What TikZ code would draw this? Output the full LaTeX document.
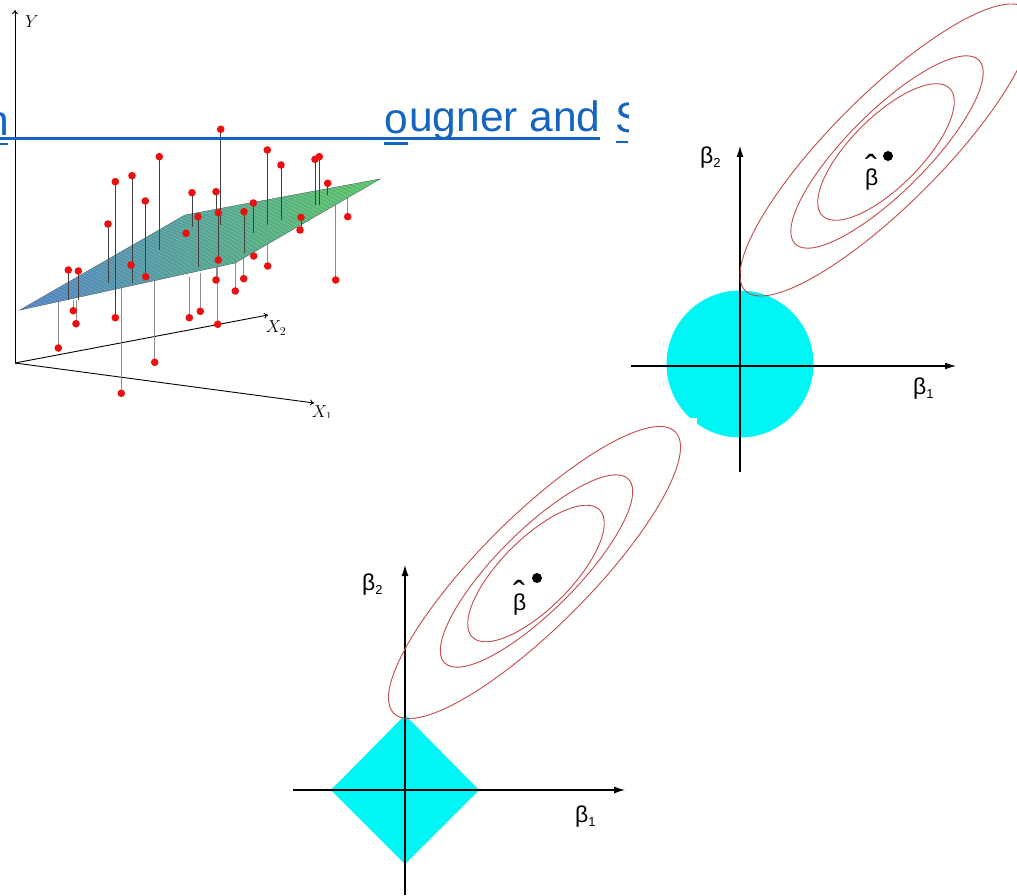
\documentclass[tikz,border=0pt]{standalone}
\usepackage{fontspec}
\setmainfont{Liberation Sans}
\usetikzlibrary{arrows.meta,calc}
\definecolor{linkblue}{RGB}{21,101,192}
\definecolor{contour}{RGB}{195,75,75}
\definecolor{aqua}{RGB}{0,245,245}
\definecolor{ptred}{RGB}{235,15,15}
\definecolor{planeblue}{RGB}{110,160,240}
\definecolor{planeteal}{RGB}{100,228,220}
\definecolor{planegreen}{RGB}{120,240,120}
\definecolor{meshcol}{RGB}{10,40,50}
\begin{document}
\begin{tikzpicture}[x=1pt,y=-1pt,
  linktext/.style={text=linkblue,font=\fontsize{42.5}{42.5}\selectfont,inner sep=0pt},
  underline/.style={draw=linkblue,line width=2.2pt},
  axis3d/.style={line width=0.9pt,-{To[length=4pt,width=6pt]}},
  lbl3d/.style={inner sep=0pt,font=\fontsize{17}{17}\selectfont},
  upstem/.style={draw=black!75,line width=0.7pt},
  downstem/.style={draw=black!45,line width=0.7pt},
  meshline/.style={draw=meshcol,opacity=0.33,line width=0.3pt},
  betaaxis/.style={line width=1.2pt,-{Latex[length=11pt,width=7pt]}},
  contourline/.style={draw=contour,line width=0.9pt},
  betalbl/.style={inner sep=0pt,anchor=base west,font=\fontsize{23}{23}\selectfont},
  hatlbl/.style={inner sep=0pt,anchor=base,font=\fontsize{36}{36}\selectfont}]
\useasboundingbox (0,0) rectangle (1017,896);
\clip (0,0) rectangle (1017,896);
\fill[white] (0,0) rectangle (1017,896);

% ---- hidden link text (partly visible)
\begin{scope}
  \clip (0,100) rectangle (9,150);
  \node[linktext,anchor=base east] (tn) at (9,136) {n};
\end{scope}
\node[linktext,anchor=base west] (to) at (384,134) {o};
\node[linktext,anchor=base west] (tugner) at (409,132) {ugner and};
\begin{scope}
  \clip (600,90) rectangle (628,150);
  \node[linktext,anchor=base west] (ts) at (615,133) {S};
\end{scope}
\draw[underline] (0,144) -- (8,144);
\draw[underline] (384,143.5) -- (408,143.5);
\draw[underline] (616,142) -- (628,142);

% ---- 3D regression plot
\coordinate (O) at (15,363);
\coordinate (Ytip) at (15,10);
\coordinate (X2tip) at (268,315);
\coordinate (X1tip) at (314,403);
\draw[axis3d] (O) -- (Ytip);
\draw[axis3d] (O) -- (X2tip);
\draw[axis3d] (O) -- (X1tip);
\node[lbl3d] (ylab) at (32,22) {$Y$};
\node[lbl3d] (x2lab) at (276,328) {$X_2$};
\node[lbl3d] (x1lab) at (322,413) {$X_1$};

% stems of points below the plane
\foreach \x/\ya/\yb in {347.7/216.7/196, 335.7/280/203, 73.3/310.7/300, 76/323.7/300,
  58.3/348/300, 121.3/393.3/287, 154.7/362.3/277, 189.3/317.7/277, 200.3/311.3/273,
  216/280/260, 217.7/324.3/263, 235.3/291/260, 243.7/278.7/253, 253.7/256/243, 267.7/266/230}
  {\draw[downstem] (\x,\ya) -- (\x,\yb);}

% plane
\coordinate (A) at (20,310);
\coordinate (B) at (185,215);
\coordinate (C) at (380,179);
\coordinate (D) at (235,263);
\shade[left color=planeblue,middle color=planeteal,right color=planegreen] (A) -- (B) -- (C) -- (D) -- cycle;
\foreach \i in {0,...,42}{
  \pgfmathsetmacro\t{\i/42}
  \draw[meshline] ($(A)!\t!(B)$) -- ($(D)!\t!(C)$);
}
\foreach \i in {0,...,48}{
  \pgfmathsetmacro\t{\i/48}
  \draw[meshline] ($(A)!\t!(D)$) -- ($(B)!\t!(C)$);
}
\draw[meshcol!70,line width=0.4pt] (A) -- (B) -- (C) -- (D) -- cycle;

% stems of points above the plane
\foreach \x/\ya/\yb in {220.7/129.3/225, 159.3/156.7/250, 267.3/150/225, 281/165/220,
  315/159.3/205, 319.3/156.7/205, 327.7/183.3/195, 115.3/181.7/318, 132/175.7/283,
  145.3/201/277, 108/224/283, 192/192.7/227, 216/191.7/213, 198/216.7/267,
  218.3/212.7/260, 244/211.7/253, 253.3/203/233, 301/217.3/230, 68.3/270/300, 78.3/271/300}
  {\draw[upstem] (\x,\ya) -- (\x,\yb);}

% red points
\foreach \x/\y in {220.7/129.3, 159.3/156.7, 267.3/150, 281/165, 315/159.3, 319.3/156.7,
  327.7/183.3, 115.3/181.7, 132/175.7, 145.3/201, 108/224, 192/192.7, 216/191.7,
  198/216.7, 218.3/212.7, 244/211.7, 253.3/203, 301/217.3, 68.3/270, 78.3/271,
  347.7/216.7, 335.7/280, 73.3/310.7, 76/323.7, 58.3/348, 121.3/393.3, 154.7/362.3,
  189.3/317.7, 200.3/311.3, 216/280, 217.7/324.3, 235.3/291, 243.7/278.7, 253.7/256,
  267.7/266, 186/233.3, 300/230, 131/265, 145.7/276.7, 218.3/260, 115.3/317.7}
  {\fill[ptred] (\x,\y) circle[radius=3.8pt];}

% ---- upper right: ridge (circle)
\fill[aqua] (740,364) circle[radius=73.5pt];
\draw[betaaxis] (631,366) -- (956,366);
\draw[betaaxis] (740,472) -- (740,146);
\draw[contourline,rotate around={45:(886,150)}] (886,150) ellipse[x radius=199pt,y radius=55pt];
\draw[contourline,rotate around={45:(887,152)}] (887,152) ellipse[x radius=130pt,y radius=40pt];
\draw[contourline,rotate around={45:(886,152)}] (886,152) ellipse[x radius=90pt,y radius=35pt];
\fill[black] (888,156) circle[radius=5pt];
\node[betalbl] (ub2) at (700,164) {β\raisebox{-4pt}{\fontsize{13}{13}\selectfont 2}};
\node[betalbl] (ub1) at (913,394) {β\raisebox{-4pt}{\fontsize{13}{13}\selectfont 1}};
\node[betalbl] (ubh) at (865,186) {β};
\node[hatlbl] (ubhat) at (871,181) {ˆ};

% ---- lower image background covering part of the circle
\fill[white] (270,418) rectangle (697,896);

% ---- lower: lasso (diamond)
\fill[aqua] (405,715) -- (479,790) -- (405,864) -- (331,790) -- cycle;
\draw[betaaxis] (293,790) -- (625,790);
\draw[betaaxis] (405,895) -- (405,565);
\draw[contourline,rotate around={45:(534.5,572.5)}] (534.5,572.5) ellipse[x radius=199pt,y radius=55pt];
\draw[contourline,rotate around={45:(536.5,571)}] (536.5,571) ellipse[x radius=130pt,y radius=40pt];
\draw[contourline,rotate around={45:(536,573.5)}] (536,573.5) ellipse[x radius=90pt,y radius=35pt];
\fill[black] (537,578) circle[radius=5pt];
\node[betalbl] (lb2) at (362,590) {β\raisebox{-4pt}{\fontsize{13}{13}\selectfont 2}};
\node[betalbl] (lb1) at (575,822) {β\raisebox{-4pt}{\fontsize{13}{13}\selectfont 1}};
\node[betalbl] (lbh) at (513,610) {β};
\node[hatlbl] (lbhat) at (519,606) {ˆ};

% ---- long link underline on top
\draw[underline] (0,138.5) -- (600,138.5);
\end{tikzpicture}
\end{document}
